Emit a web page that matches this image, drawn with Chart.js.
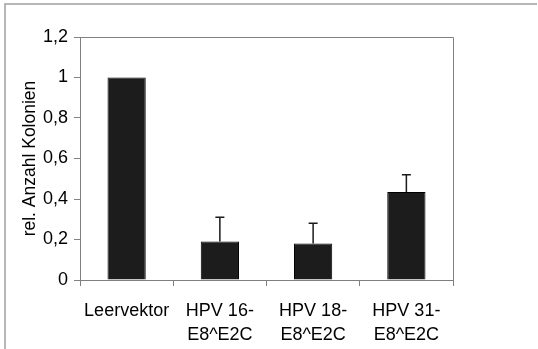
<!DOCTYPE html>
<html>
<head>
<meta charset="utf-8">
<script src="https://cdn.jsdelivr.net/npm/chart.js@4"></script>
<style>
  html, body { margin: 0; padding: 0; background: #fff; }
  #wrap { width: 538px; height: 349px; position: relative; }
</style>
</head>
<body>
<div id="wrap"><canvas id="chart"></canvas></div>
<script>
// Daten
const categories = [["Leervektor"], ["HPV 16-", "E8^E2C"], ["HPV 18-", "E8^E2C"], ["HPV 31-", "E8^E2C"]];
const values = [1.0, 0.19, 0.18, 0.435];
const errorsUp = [0, 0.12, 0.10, 0.085];
const yTicks = [0, 0.2, 0.4, 0.6, 0.8, 1.0, 1.2];

const axisGray = "#808080";

// Rahmen, Plotbox und Fehlerbalken
const extras = {
  id: "extras",
  beforeDraw(chart) {
    const c = chart.ctx;
    c.save();
    c.strokeStyle = "#a0a0a0";
    c.lineWidth = 1.5;
    c.beginPath();
    c.moveTo(5, 349);
    c.lineTo(5, 4);
    c.lineTo(537, 4);
    c.stroke();
    c.restore();
  },
  afterDatasetsDraw(chart) {
    const c = chart.ctx;
    const a = chart.chartArea;
    const x = chart.scales.x;
    const y = chart.scales.y;
    c.save();
    c.strokeStyle = axisGray;
    c.lineWidth = 1;
    c.beginPath();
    c.moveTo(a.left, a.top + 0.5);
    c.lineTo(a.right + 0.5, a.top + 0.5);
    c.lineTo(a.right + 0.5, a.bottom);
    c.stroke();

    c.strokeStyle = "#1a1a1a";
    c.lineWidth = 1.5;
    values.forEach((v, i) => {
      if (!errorsUp[i]) return;
      const px = x.getPixelForValue(i);
      const y0 = y.getPixelForValue(v);
      const y1 = y.getPixelForValue(v + errorsUp[i]);
      c.beginPath();
      c.moveTo(px, y0);
      c.lineTo(px, y1);
      c.moveTo(px - 4.5, y1);
      c.lineTo(px + 4.5, y1);
      c.stroke();
    });
    c.restore();
  }
};

new Chart(document.getElementById("chart"), {
  type: "bar",
  data: {
    labels: categories,
    datasets: [{
      data: values,
      backgroundColor: "#1c1c1c",
      borderColor: "#000",
      borderWidth: 1,
      barPercentage: 0.41,
      categoryPercentage: 1
    }]
  },
  options: {
    responsive: true,
    maintainAspectRatio: false,
    animation: false,
    layout: { padding: { left: 20, top: 37, right: 85, bottom: 0 } },
    plugins: {
      legend: { display: false },
      tooltip: { enabled: false }
    },
    scales: {
      x: {
        grid: {
          display: true,
          drawOnChartArea: false,
          drawTicks: true,
          tickLength: 6,
          offset: true,
          color: axisGray
        },
        border: { color: axisGray, width: 1 },
        ticks: {
          color: "#000",
          padding: 14,
          maxRotation: 0,
          autoSkip: false,
          font: { family: "Liberation Sans", size: 18, lineHeight: 1.28 }
        },
        afterFit: (s) => { s.height = 69; }
      },
      y: {
        min: 0,
        max: 1.2,
        afterBuildTicks: (s) => { s.ticks = yTicks.map(v => ({ value: v })); },
        grid: {
          display: true,
          drawOnChartArea: false,
          drawTicks: true,
          tickLength: 6,
          color: axisGray
        },
        border: { color: axisGray, width: 1 },
        ticks: {
          color: "#000",
          padding: 6,
          font: { family: "Liberation Sans", size: 18 },
          callback: (v) => String(+v.toFixed(1)).replace(".", ",")
        },
        title: {
          display: true,
          text: "rel. Anzahl Kolonien",
          color: "#000",
          font: { family: "Liberation Sans", size: 17.5 },
          padding: { top: 0, bottom: 0 }
        },
        afterFit: (s) => { s.width = 60; }
      }
    }
  },
  plugins: [extras]
});
</script>
</body>
</html>
